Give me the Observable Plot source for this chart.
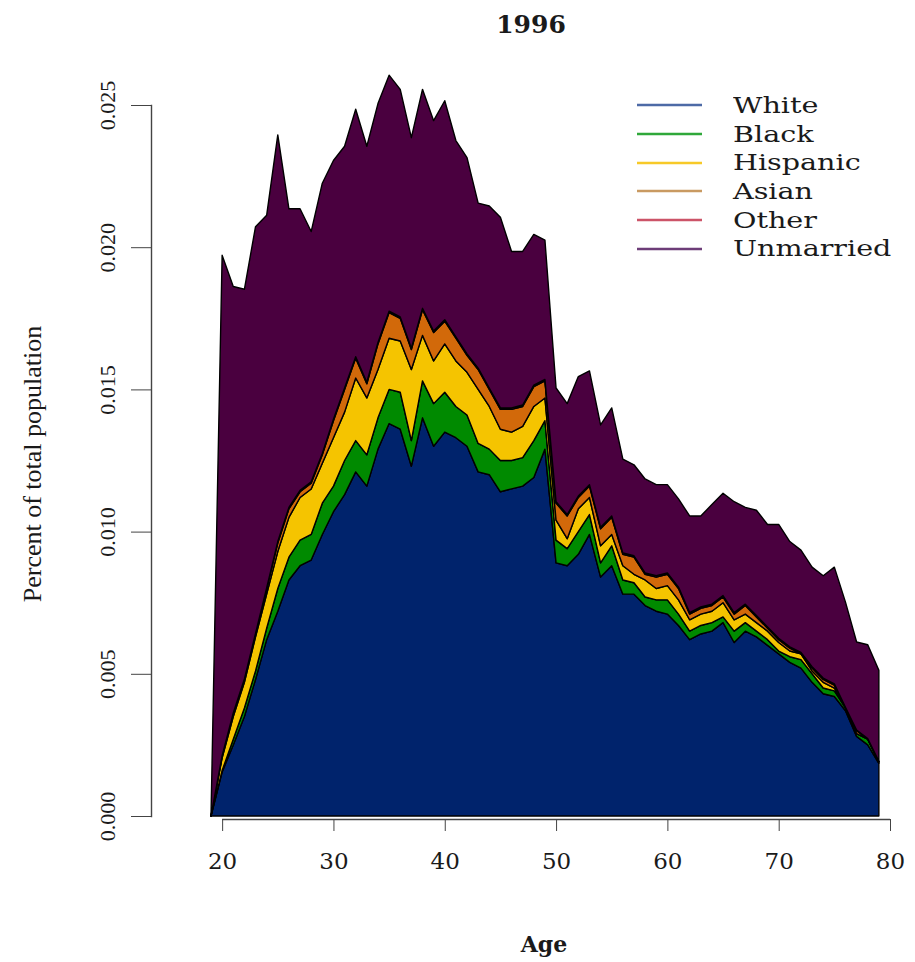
<!DOCTYPE html>
<html><head><meta charset="utf-8">
<script src="https://cdn.jsdelivr.net/npm/d3@7"></script>
<script src="https://cdn.jsdelivr.net/npm/@observablehq/plot@0.6"></script>
<style>
body{margin:0;background:#fff;}
#wrap{position:relative;width:915px;height:962px;}
#legend{position:absolute;left:637px;top:91px;font-family:"DejaVu Serif";font-size:22px;color:#1a1a1a;}
.row{height:28.7px;display:flex;align-items:center;white-space:nowrap;}
.row svg{width:65px;height:10px;margin-right:31px;flex:none;}
.row span{display:inline-block;transform:scaleX(1.3);transform-origin:left center;}
</style></head><body><div id="wrap"><div id="legend"></div></div>
<script>
const ages = [19,20,21,22,23,24,25,26,27,28,29,30,31,32,33,34,35,36,37,38,39,40,41,42,43,44,45,46,47,48,49,
  50,51,52,53,54,55,56,57,58,59,60,61,62,63,64,65,66,67,68,69,70,71,72,73,74,75,76,77,78,79];

const white = [0,.00155,.0025,.0035,.0048,.0062,.0072,.0083,.0088,.0090,.0099,.0107,.0113,.0121,.0116,.0129,
  .0138,.0136,.0123,.0140,.0130,.0135,.0133,.0130,.0121,.0120,.0114,.0115,.0116,.0119,.0129,
  .0089,.0088,.0092,.0099,.0084,.0088,.0078,.0078,.0074,.0072,.0071,.0067,.0062,.0064,.0065,.0068,
  .0061,.0065,.0063,.0060,.0057,.0054,.0052,.0047,.0043,.0042,.0037,.0028,.0025,.00185];
const black = [0,.00005,.0002,.0003,.0003,.0004,.0008,.0008,.0009,.0009,.0011,.0009,.0012,.0011,.0011,.0011,
  .0012,.0013,.0009,.0013,.0015,.0014,.0011,.0011,.0010,.0009,.0011,.0010,.0010,.0013,.0010,
  .0008,.0006,.0008,.0007,.0005,.0007,.0005,.0004,.0003,.0004,.0005,.0004,.0003,.0003,.0003,.0002,
  .0004,.0003,.0002,.0002,.0001,.0002,.0003,.0003,.0002,.0002,.0001,.0001,.0002,.00005];
const hispanic = [0,.00045,.0008,.0009,.0012,.0012,.0013,.0014,.0015,.0016,.0014,.0017,.0017,.0022,.0020,.0017,
  .0018,.0018,.0025,.0016,.0015,.0017,.0016,.0015,.0019,.0015,.0011,.0010,.0011,.0012,.0008,
  .0007,.00035,.0008,.0006,.0006,.0004,.0005,.0003,.0006,.0004,.0005,.0005,.0004,.0004,.0004,.0005,
  .0004,.0003,.0003,.0003,.0003,.0002,.0002,.0001,.0002,.0001,0,0,0,0];
const asian = [0,.00005,.0001,.0001,.0001,.0002,.0003,.0003,.0002,.0002,.0003,.0006,.0008,.0007,.0005,.0009,
  .0009,.0008,.0007,.0009,.0010,.0008,.0008,.0006,.0007,.0006,.0007,.0008,.0007,.0007,.0006,
  .0006,.0008,.0004,.0004,.0006,.0006,.0004,.0006,.0002,.0004,.0004,.0004,.0002,.0002,.0002,.0002,
  .0002,.0003,.0002,.0001,.0001,.0001,0,.0001,.0001,.0001,0,.0001,0,0];
const other = [0,.00002,.00002,.00002,.00002,.00002,.00005,.00005,.00005,.00005,.00005,.00005,.00005,.00005,.00005,.00005,
  .00005,.00005,.00005,.00005,.00005,.00005,.00005,.00005,.00005,.00005,.00005,.00005,.00005,.00005,.00005,
  .00005,.00005,.00005,.00005,.00005,.00005,.00005,.00005,.00005,.00005,.00005,.00005,.00005,.00005,.00005,.00005,
  .00005,.00005,.00005,.00005,.00005,.00005,.00005,.00005,.00005,.00005,.00002,.00002,.00002,.00002];
const unmarried = [0,.0176,.0150,.0137,.0143,.0131,.0143,.0105,.0099,.0088,.0095,.0091,.0085,.0087,.0083,.0084,
  .0083,.0080,.0074,.0077,.0074,.0077,.0069,.0069,.0058,.0064,.0067,.0055,.0054,.0053,.0049,
  .0040,.0039,.0042,.0040,.0036,.0038,.0033,.0032,.0033,.0032,.0031,.0031,.0034,.0032,.0035,.0036,
  .0039,.0034,.0037,.0036,.0040,.0037,.0036,.0035,.0036,.0041,.0037,.0031,.0033,.0032];

const groups = ["White","Black","Hispanic","Asian","Other","Unmarried"];
const fills = ["#00236c","#008a00","#f5c400","#d2690a","#c8102e","#4a003f"];
const legendColors = ["#4d6aa6","#2fa83a","#f7c928","#c99a62","#cc5468","#6d3d78"];
const xTicks = [20,30,40,50,60,70,80];
const yTicks = [0,0.005,0.010,0.015,0.020,0.025];

const seriesValues = [white,black,hispanic,asian,other,unmarried];
const table = [];
groups.forEach((g,gi)=>ages.forEach((a,i)=>table.push({age:a,value:seriesValues[gi][i],group:g})));

const chart = Plot.plot({
  width: 915, height: 962,
  marginLeft: 151, marginRight: 25, marginTop: 105, marginBottom: 146,
  x: {domain: [19, 80], insetLeft: 60},
  y: {domain: [0, 0.025]},
  color: {domain: groups, range: fills},
  style: {fontFamily: "DejaVu Serif", fontSize: "22px", color: "#1a1a1a", background: "white"},
  marks: [
    Plot.areaY(table, {x: "age", y: "value", z: "group", fill: "group", order: groups,
      stroke: "black", strokeWidth: 1.4, strokeLinejoin: "round", curve: "linear"}),
    Plot.frame({anchor: "left", stroke: "#444", strokeWidth: 1.4}),
    Plot.axisY({ticks: yTicks, tickSize: 20, tickRotate: -90, tickPadding: 17,
      tickFormat: d => d.toFixed(3), fontFamily: "Liberation Serif", fontSize: 22, label: null, stroke: "#444"}),
    Plot.ruleY([0], {x1: d3.min(xTicks), x2: d3.max(xTicks), dy: 3, stroke: "#444", strokeWidth: 1.4}),
    Plot.axisX({ticks: xTicks, tickSize: 12, tickPadding: 21, dy: 3, label: null, fontSize: 23, stroke: "#444"}),
    Plot.text(["1996"], {text: d => d, frameAnchor: "top", dx: 10, dy: -90, fontWeight: "bold", fontSize: 25}),
    Plot.text(["Age"], {text: d => d, frameAnchor: "bottom", dx: 23, dy: 135, fontWeight: "bold", fontSize: 22}),
    Plot.text(["Percent of total population"], {text: d => d, frameAnchor: "left", textAnchor: "middle",
      dx: -119, dy: 3, rotate: -90, fontFamily: "Liberation Serif", fontSize: 26})
  ]
});
document.getElementById("wrap").prepend(chart);

const legend = document.getElementById("legend");
groups.forEach((g,i) => {
  const row = document.createElement("div");
  row.className = "row";
  row.innerHTML = `<svg viewBox="0 0 65 10"><line x1="0" x2="65" y1="5" y2="5" stroke="${legendColors[i]}" stroke-width="2.6"/></svg><span>${g}</span>`;
  legend.appendChild(row);
});
</script>
</body></html>
